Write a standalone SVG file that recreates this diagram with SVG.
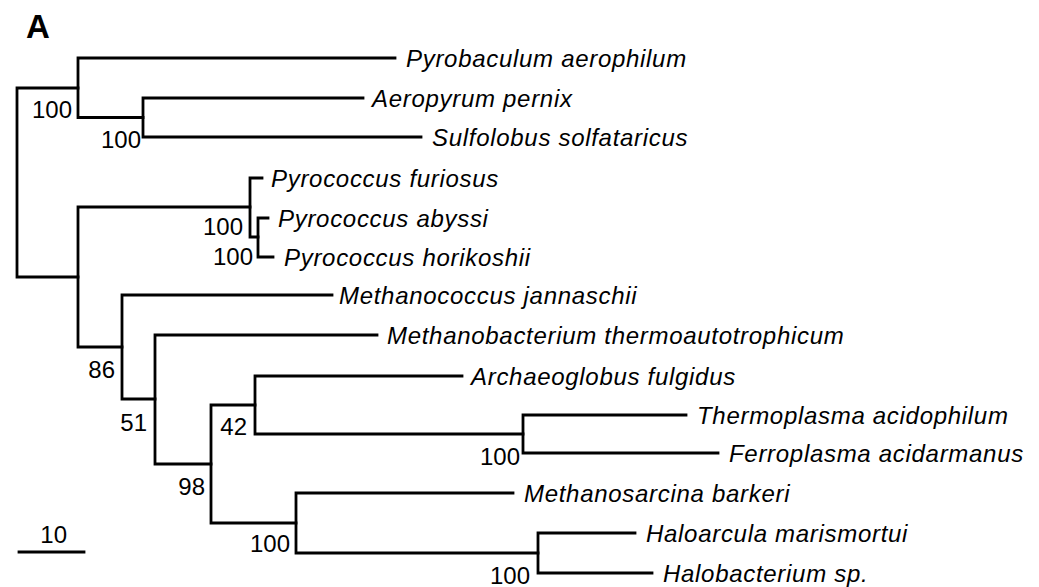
<svg xmlns="http://www.w3.org/2000/svg" width="1039" height="587" viewBox="0 0 1039 587">
<style>
.bg{fill:#fff}
.br{fill:none;stroke:#000;stroke-width:2.8;stroke-linejoin:miter;stroke-linecap:square}
.sp{font-family:"Liberation Sans",Arial,Helvetica,sans-serif;font-style:italic;font-size:24px;letter-spacing:0.7px;fill:#000}
.bs{font-family:"Liberation Sans",Arial,Helvetica,sans-serif;font-size:24px;fill:#000;text-anchor:end}
.ttl{font-family:"Liberation Sans",Arial,Helvetica,sans-serif;font-weight:bold;font-size:33px;fill:#000}
</style>
<rect class="bg" x="0" y="0" width="1039" height="587"/>
<text class="ttl" x="26" y="38">A</text>
<g id="connectors">
<path class="br" d="M78,88 H17 V277 H78"/>
<path class="br" d="M395,58 H78 V117.5 H143"/>
<path class="br" d="M363,98 H143 V137 H421"/>
<path class="br" d="M250,207 H78 V347 H122"/>
<path class="br" d="M262,178 H250 V237 H258"/>
<path class="br" d="M268,218 H258 V257 H273"/>
<path class="br" d="M332,295 H122 V399 H155"/>
<path class="br" d="M377,335 H155 V464 H211"/>
<path class="br" d="M255,405 H211 V523 H296"/>
<path class="br" d="M462,376 H255 V434 H523"/>
<path class="br" d="M686,415 H523 V453 H718"/>
<path class="br" d="M513,493 H296 V553 H538"/>
<path class="br" d="M635,533 H538 V573 H652"/>
</g>
<g id="support">
<text class="bs" x="72" y="118">100</text>
<text class="bs" x="141" y="148">100</text>
<text class="bs" x="243" y="235">100</text>
<text class="bs" x="253" y="265">100</text>
<text class="bs" x="115" y="378">86</text>
<text class="bs" x="147" y="431">51</text>
<text class="bs" x="247" y="435">42</text>
<text class="bs" x="205" y="495">98</text>
<text class="bs" x="290" y="552">100</text>
<text class="bs" x="520" y="465">100</text>
<text class="bs" x="530" y="584">100</text>
</g>
<g id="scale">
<path class="br" d="M19,552 H84"/>
<text class="bs" x="67" y="543">10</text>
</g>
<g id="n-pyrobaculum"><text class="sp" x="406" y="67">Pyrobaculum aerophilum</text></g>
<g id="n-aeropyrum"><text class="sp" x="372" y="107">Aeropyrum pernix</text></g>
<g id="n-sulfolobus"><text class="sp" x="432" y="146">Sulfolobus solfataricus</text></g>
<g id="n-pfuriosus"><text class="sp" x="271" y="187">Pyrococcus furiosus</text></g>
<g id="n-pabyssi"><text class="sp" x="278" y="227">Pyrococcus abyssi</text></g>
<g id="n-phorikoshii"><text class="sp" x="284" y="266">Pyrococcus horikoshii</text></g>
<g id="n-mjannaschii"><text class="sp" x="339" y="304">Methanococcus jannaschii</text></g>
<g id="n-mthermo"><text class="sp" x="387" y="344">Methanobacterium thermoautotrophicum</text></g>
<g id="n-archaeoglobus"><text class="sp" x="471" y="385">Archaeoglobus fulgidus</text></g>
<g id="n-thermoplasma"><text class="sp" x="697" y="424">Thermoplasma acidophilum</text></g>
<g id="n-ferroplasma"><text class="sp" x="729" y="462">Ferroplasma acidarmanus</text></g>
<g id="n-methanosarcina"><text class="sp" x="524" y="502">Methanosarcina barkeri</text></g>
<g id="n-haloarcula"><text class="sp" x="646" y="542">Haloarcula marismortui</text></g>
<g id="n-halobacterium"><text class="sp" x="663" y="582">Halobacterium sp.</text></g>
</svg>
